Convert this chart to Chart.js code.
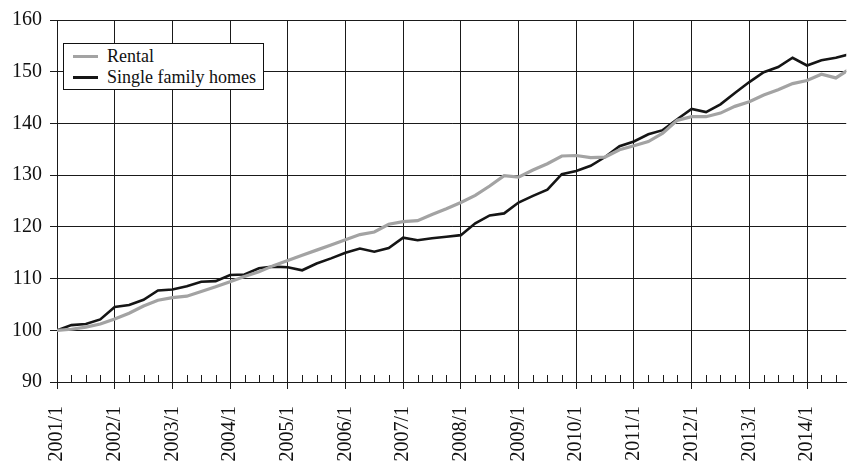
<!DOCTYPE html>
<html>
<head>
<meta charset="utf-8">
<script src="https://cdn.jsdelivr.net/npm/chart.js@4.4.0/dist/chart.umd.min.js"></script>
<style>
  html, body { margin: 0; padding: 0; background: #fff; }
  #wrap { position: relative; width: 848px; height: 467px; }
  #legend {
    position: absolute; left: 63px; top: 43px; width: 199px; height: 45px;
    border: 1px solid #111; background: #fff;
    font-family: 'Liberation Serif', 'Times New Roman', serif; font-size: 18px; color: #111;
  }
  .item { position: absolute; left: 9px; height: 20px; display: flex; align-items: center; white-space: nowrap; }
  .swatch { width: 25px; height: 3px; margin-right: 9px; }
</style>
</head>
<body>
<div id="wrap">
  <canvas id="c" width="848" height="467"></canvas>
  <div id="legend"></div>
</div>
<script>
// Tick labels on the x axis (first quarter of each year)
const yearTicks = ['2001/1','2002/1','2003/1','2004/1','2005/1','2006/1','2007/1',
                   '2008/1','2009/1','2010/1','2011/1','2012/1','2013/1','2014/1'];
// Quarterly series, 2001/1 .. 2014/4 (index 0 = 2001/1)
const rental = [100.0,100.2,100.6,101.2,102.2,103.3,104.7,105.8,106.3,106.6,107.5,108.4,
                109.4,110.4,111.3,112.5,113.5,114.5,115.5,116.5,117.5,118.5,119.0,120.5,
                121.0,121.2,122.4,123.5,124.7,126.1,127.9,129.9,129.6,131.0,132.2,133.7,
                133.8,133.4,133.5,134.9,135.7,136.5,138.1,140.6,141.3,141.3,142.0,143.3,
                144.2,145.5,146.5,147.7,148.3,149.5,148.8,150.6];
const singleFamily = [100.0,101.0,101.2,102.1,104.5,104.9,105.9,107.7,107.9,108.5,109.4,109.5,
                110.7,110.8,112.0,112.3,112.2,111.6,112.9,113.9,115.0,115.8,115.2,115.9,
                117.9,117.4,117.8,118.1,118.4,120.7,122.2,122.6,124.7,126.0,127.2,130.2,
                130.8,131.8,133.5,135.6,136.5,137.9,138.7,140.8,142.8,142.2,143.7,145.9,
                148.0,149.9,150.9,152.7,151.2,152.2,152.7,153.4];
const seriesNames = ['Rental', 'Single family homes'];
const yTicks = [90,100,110,120,130,140,150,160];

const toPts = arr => arr.map((v, i) => ({ x: i, y: v }));
const gridColor = '#1a1a1a';
const tickFont = { family: "'Liberation Serif', 'Times New Roman', serif", size: 20 };

const minorTicks = {
  id: 'minorTicks',
  afterDraw(chart) {
    const xs = chart.scales.x, ctx = chart.ctx, bottom = chart.chartArea.bottom;
    ctx.save();
    ctx.strokeStyle = gridColor; ctx.lineWidth = 1;
    ctx.beginPath();
    for (let i = 0; i < rental.length; i++) {
      if (i % 4 === 0) continue;
      const px = xs.getPixelForValue(i);
      if (px > chart.chartArea.right) continue;
      const x = Math.round(px) + 0.5;
      ctx.moveTo(x, bottom); ctx.lineTo(x, bottom - 7);
    }
    ctx.stroke();
    ctx.restore();
  }
};

const chart = new Chart(document.getElementById('c'), {
  type: 'line',
  data: {
    datasets: [
      { label: seriesNames[0], data: toPts(rental), borderColor: '#a3a3a3', borderWidth: 3.2,
        pointRadius: 0, tension: 0, fill: false },
      { label: seriesNames[1], data: toPts(singleFamily), borderColor: '#151515', borderWidth: 2.6,
        pointRadius: 0, tension: 0, fill: false }
    ]
  },
  options: {
    responsive: false,
    animation: false,
    layout: { padding: { top: 16, left: 0, right: 0, bottom: 0 } },
    plugins: { legend: { display: false }, tooltip: { enabled: false } },
    scales: {
      x: {
        type: 'linear', min: 0, max: 54.72,
        afterFit(s) { s.height = 85; },
        afterBuildTicks(s) { s.ticks = yearTicks.map((_, k) => ({ value: k * 4 })); },
        ticks: {
          autoSkip: false, maxRotation: 90, minRotation: 90, padding: 17,
          color: '#111', font: tickFont,
          callback: (v) => yearTicks[Math.round(v / 4)]
        },
        grid: { color: gridColor, lineWidth: 1, tickLength: 7, drawTicks: true },
        border: { color: gridColor, width: 1 }
      },
      y: {
        min: 90, max: 160,
        afterFit(s) { s.width = 57; },
        afterBuildTicks(s) { s.ticks = yTicks.map(v => ({ value: v })); },
        ticks: { padding: 8, color: '#111', font: tickFont },
        grid: { color: gridColor, lineWidth: 1, tickLength: 7 },
        border: { color: gridColor, width: 1 }
      }
    }
  },
  plugins: [minorTicks]
});

// HTML legend built from the dataset labels
const leg = document.getElementById('legend');
chart.data.datasets.forEach((ds, k) => {
  const it = document.createElement('div');
  it.className = 'item';
  it.style.top = (k === 0 ? 2 : 23) + 'px';
  const sw = document.createElement('span');
  sw.className = 'swatch'; sw.style.background = ds.borderColor;
  const tx = document.createElement('span');
  tx.textContent = ds.label;
  it.appendChild(sw); it.appendChild(tx);
  leg.appendChild(it);
});
</script>
</body>
</html>
